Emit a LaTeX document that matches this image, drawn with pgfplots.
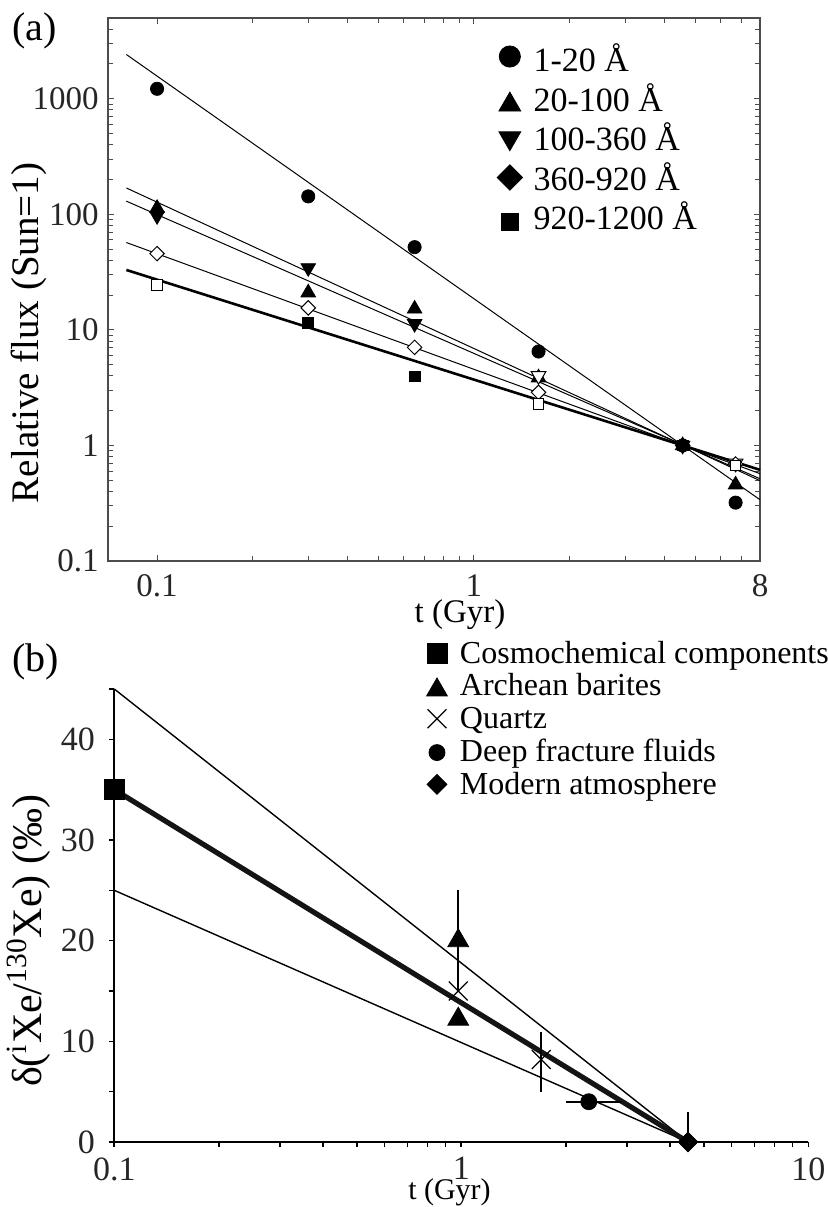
\documentclass[border=0pt]{standalone}
\usepackage{fontspec}
\setmainfont{Liberation Serif}
\usepackage{pgfplots}
\pgfplotsset{compat=1.18}
\newcommand{\ft}{\fontsize{16.5}{19.8}\selectfont}
\newcommand{\fl}{\fontsize{19.5}{23}\selectfont}
\pgfplotsset{
  lgmark/.style 2 args={legend image code/.code={\draw[##1,mark size=#1] plot coordinates {(0.3cm,#2)};}},
}
\begin{document}
\begin{tikzpicture}
\path[use as bounding box] (0,0) rectangle (413.5pt,603.5pt);

% ---------------- Panel (a) ----------------
\begin{axis}[
  at={(54pt,323pt)}, anchor=south west,
  scale only axis, width=326pt, height=271.5pt,
  xmode=log, ymode=log,
  xmin=0.07, xmax=8, ymin=0.1, ymax=5000,
  xtick={0.1,1,8}, xticklabels={0.1,1,8},
  minor xtick={0.2,0.3,0.4,0.5,0.6,0.7,0.8,0.9,2,3,4,5,6,7},
  ytick={0.1,1,10,100,1000}, yticklabels={0.1,1,10,100,1000},
  minor ytick={0.2,0.3,0.4,0.5,0.6,0.7,0.8,0.9,2,3,4,5,6,7,8,9,20,30,40,50,60,70,80,90,200,300,400,500,600,700,800,900,2000,3000,4000,5000},
  tick align=inside, major tick length=3pt, minor tick length=2.5pt,
  axis line style={black!70, line width=0.6pt},
  every tick/.style={black!70, line width=0.5pt},
  tick label style={font=\ft, black!85, /pgf/number format/assume math mode=true},
  xticklabel style={inner sep=0pt, yshift=-6.5pt},
  yticklabel style={inner sep=0pt, xshift=-4.5pt},
  xlabel={t (Gyr)},
  xlabel style={at={(axis description cs:0.54,-0.071)}, anchor=north, inner sep=0pt, font=\ft},
  ylabel={Relative flux (Sun=1)},
  ylabel style={at={(axis description cs:-0.1212,0.42)}, anchor=center, inner sep=0pt, font=\fl},
  legend style={at={(rel axis cs:0.5968,0.953)}, anchor=north west, draw=none, fill=none,
    inner sep=0pt, outer sep=0pt, row sep=1.8pt, column sep=5.5pt,
    font=\fontsize{17}{20}\selectfont,
    nodes={inner sep=0pt, text height=14pt, text depth=4pt}},
  legend cell align=left,
  clip=false,
]
% fitted power laws
\addplot[black, line width=0.5pt, forget plot] coordinates {(0.08,2415) (8,0.339)};
\addplot[black, line width=0.5pt, forget plot] coordinates {(0.08,169) (8,0.496)};
\addplot[black, line width=0.5pt, forget plot] coordinates {(0.08,130) (8,0.515)};
\addplot[black, line width=0.5pt, forget plot] coordinates {(0.08,57) (8,0.57)};
\addplot[black, line width=1.3pt, forget plot] coordinates {(0.08,33) (8,0.615)};

% filled markers (legend)
\addplot[only marks, mark=*, mark size=3.3pt, black, lgmark={5.3pt}{2.5pt}]
  coordinates {(0.1,1220) (0.3,143) (0.65,52) (1.6,6.5) (4.56,1) (6.7,0.32)};
\addlegendentry{1-20 Å}
\addplot[only marks, mark=triangle*, mark size=4.2pt, black, lgmark={6.3pt}{-1.8pt}]
  coordinates {(0.1,113) (0.3,21) (0.65,15.2) (1.6,3.86) (4.56,1) (6.7,0.457)};
\addlegendentry{20-100 Å}
\addplot[only marks, mark=triangle*, mark size=4.2pt, black, mark options={rotate=180}, lgmark={6.3pt}{1.3pt}]
  coordinates {(0.1,97) (0.3,34.4) (0.65,11.3) (4.56,1)};
\addlegendentry{100-360 Å}
\addplot[only marks, mark=square*, mark size=2.6pt, black, mark options={rotate=45}, lgmark={4.5pt}{1.4pt}]
  coordinates {(4.56,1)};
\addlegendentry{360-920 Å}
\addplot[only marks, mark=square*, mark size=2.7pt, black, lgmark={4.2pt}{-0.8pt}]
  coordinates {(0.3,11.5) (0.65,3.96) (4.56,1)};
\addlegendentry{920-1200 Å}

% open markers
\addplot[only marks, mark=triangle*, mark size=4.2pt, black, mark options={rotate=180, fill=white, line width=0.5pt}, forget plot]
  coordinates {(1.6,4.0) (6.7,0.70)};
\addplot[only marks, mark=square*, mark size=2.55pt, black, mark options={rotate=45, fill=white, line width=0.5pt}, forget plot]
  coordinates {(0.1,45.7) (0.3,15.5) (0.65,7.06) (1.6,2.88) (6.7,0.69)};
\addplot[only marks, mark=square*, mark size=2.7pt, black, mark options={fill=white, line width=0.5pt}, forget plot]
  coordinates {(0.1,24.6) (1.6,2.3) (6.7,0.67)};
\end{axis}

% ---------------- Panel (b) ----------------
\begin{axis}[
  at={(57.15pt,32.5pt)}, anchor=south west,
  scale only axis, width=347pt, height=226.5pt,
  xmode=log, xmin=0.1, xmax=10, ymin=0, ymax=45,
  axis x line=bottom, axis y line=left,
  axis line style={-, line width=1pt, black},
  tick align=outside, major tick length=2.5pt, minor tick length=2.5pt,
  every tick/.style={black, line width=0.8pt},
  xtick={0.1,1,10}, xticklabels={0.1,1,10},
  minor xtick={0.2,0.3,0.4,0.5,0.6,0.7,0.8,0.9,2,3,4,5,6,7,8,9},
  ytick={0,10,20,30,40}, yticklabels={0,10,20,30,40},
  minor ytick={5,15,25,35,45},
  tick label style={font=\fontsize{17}{20}\selectfont, black!85, /pgf/number format/assume math mode=true},
  xticklabel style={inner sep=0pt, yshift=-5pt},
  yticklabel style={inner sep=0pt, xshift=-7pt},
  xlabel={t (Gyr)},
  xlabel style={at={(axis description cs:0.483,-0.0806)}, anchor=north, inner sep=0pt, font=\fontsize{15}{18}\selectfont},
  ylabel={δ(\textsuperscript{i}Xe/\textsuperscript{130}Xe) (‰)},
  ylabel style={at={(axis description cs:-0.1229,0.444)}, anchor=center, inner sep=0pt, font=\fontsize{21}{25}\selectfont},
  legend style={at={(rel axis cs:0.45,1.110)}, anchor=north west, draw=none, fill=none,
    inner sep=0pt, outer sep=0pt, row sep=1pt, column sep=6.3pt,
    font=\fontsize{16}{19}\selectfont,
    nodes={inner sep=0pt, text height=12pt, text depth=3.4pt}},
  legend cell align=left,
  clip=false,
]
\addplot[black, line width=0.7pt, forget plot] coordinates {(0.1,45) (4.5,0)};
\addplot[black, line width=0.7pt, forget plot] coordinates {(0.1,25) (4.5,0)};
\addplot[black!92, line width=2.6pt, forget plot] coordinates {(0.1,35) (4.5,0)};

\addplot[only marks, mark=square*, mark size=5pt, black, lgmark={5pt}{0.7pt}]
  coordinates {(0.1,35)};
\addlegendentry{Cosmochemical components}
\addplot[only marks, mark=triangle*, mark size=6pt, black, lgmark={6pt}{-1.3pt},
  error bars/.cd, y dir=both, y explicit, error mark=none, error bar style={line width=0.8pt}]
  coordinates {(0.98,20) +- (0,5) (0.98,12.2) +- (0,0)};
\addlegendentry{Archean barites}
\addplot[only marks, mark=x, mark size=6.7pt, black, mark options={line width=0.6pt}, lgmark={6.7pt}{0.7pt},
  error bars/.cd, y dir=both, y explicit, error mark=none, error bar style={line width=0.8pt}]
  coordinates {(0.98,15) += (0,0) -= (0,0) (1.7,8.2) += (0,2.7) -= (0,3.2)};
\addlegendentry{Quartz}
\addplot[only marks, mark=*, mark size=4pt, black, lgmark={4pt}{0.2pt},
  error bars/.cd, x dir=both, x explicit, error mark=none, error bar style={line width=0.8pt}]
  coordinates {(2.33,4) += (0.57,0) -= (0.33,0)};
\addlegendentry{Deep fracture fluids}
\addplot[only marks, mark=square*, mark size=3.5pt, black, mark options={rotate=45}, lgmark={3.5pt}{0.7pt},
  error bars/.cd, y dir=both, y explicit, error mark=none, error bar style={line width=0.8pt}]
  coordinates {(4.5,0) += (0,3) -= (0,0)};
\addlegendentry{Modern atmosphere}
\end{axis}

\node[anchor=west, inner sep=0pt, font=\fontsize{20}{24}\selectfont] at (6pt,588pt) {(a)};
\node[anchor=west, inner sep=0pt, font=\fontsize{20}{24}\selectfont] at (6pt,272.5pt) {(b)};
\end{tikzpicture}
\end{document}
